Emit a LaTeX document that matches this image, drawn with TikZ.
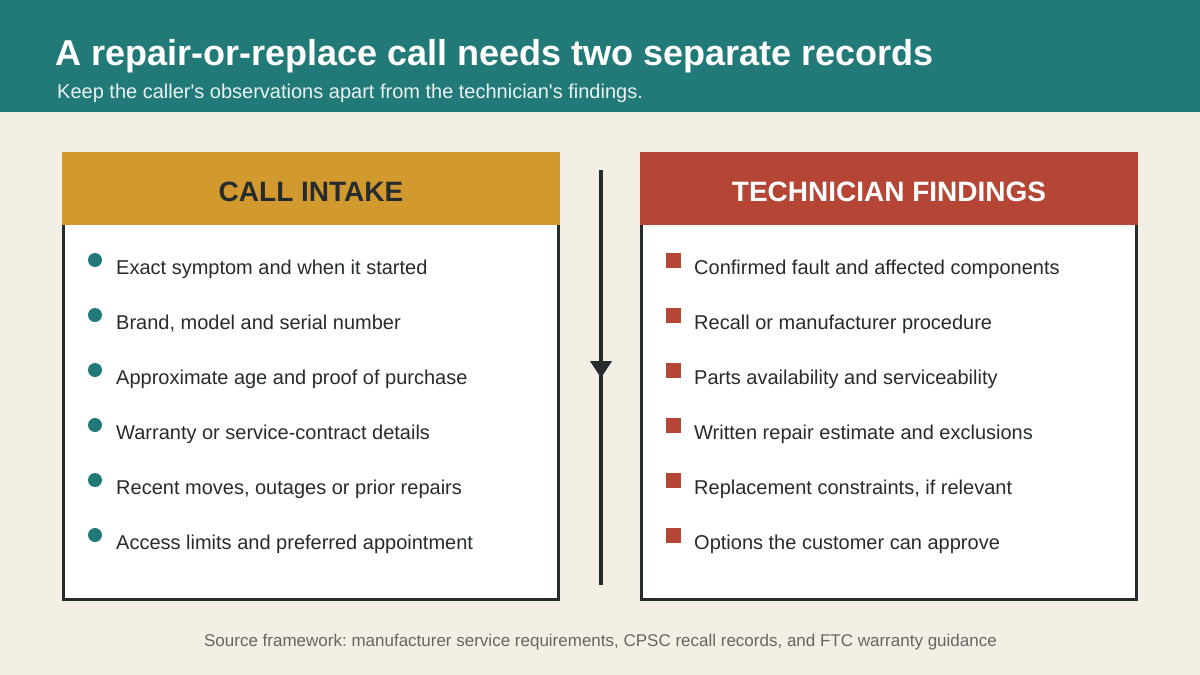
\documentclass[tikz,border=0pt]{standalone}
\usepackage{fontspec}
\setmainfont{Liberation Sans}
\frenchspacing
\usetikzlibrary{arrows.meta}
\definecolor{bgcream}{HTML}{F3EFE4}
\definecolor{teal}{HTML}{217A78}
\definecolor{ochre}{HTML}{D2992E}
\definecolor{brick}{HTML}{B54636}
\definecolor{ink}{HTML}{262C2E}
\definecolor{footgray}{HTML}{666666}
\begin{document}
\begin{tikzpicture}[x=1pt, y=-1pt,
  head/.style={rectangle, minimum width=498pt, minimum height=73pt, inner sep=0pt,
               text height=26pt, text depth=0pt,
               font=\fontsize{28}{32}\selectfont\bfseries},
  body/.style={rectangle, draw=ink, line width=3pt, fill=white, minimum width=495pt,
               minimum height=376pt, inner sep=0pt},
  item/.style={anchor=base west, inner sep=0pt, text=ink, font=\fontsize{20}{24}\selectfont},
  dot/.style={circle, fill=teal, minimum size=14pt, inner sep=0pt},
  sq/.style={rectangle, fill=brick, minimum size=15pt, inner sep=0pt},
  flow/.style={draw=ink, line width=4pt}
]
  % Hintergrund und Kopfzeile
  \fill[bgcream] (0,0) rectangle (1200,675);
  \fill[teal] (0,0) rectangle (1200,112);
  \node[anchor=base west, inner sep=0pt, text=white, font=\fontsize{36}{40}\selectfont\bfseries]
    (title) at (55,65) {A repair-or-replace call needs two separate records};
  \node[anchor=base west, inner sep=0pt, text=white!90!teal, font=\fontsize{20}{24}\selectfont]
    (subtitle) at (57,98) {Keep the caller\textquotesingle s observations apart from the technician\textquotesingle s findings.};

  % Linke Spalte: Anrufannahme
  \node[body] (intakebody) at (311,411.5) {};
  \node[head, fill=ochre, text=ink] (intakehead) at (311,188.5) {CALL INTAKE};
  \node[dot] (d1) at (95,260) {};
  \node[dot] (d2) at (95,315) {};
  \node[dot] (d3) at (95,370) {};
  \node[dot] (d4) at (95,425) {};
  \node[dot] (d5) at (95,480) {};
  \node[dot] (d6) at (95,535) {};
  \node[item] (i1) at (116,274) {Exact symptom and when it started};
  \node[item] (i2) at (116,329) {Brand, model and serial number};
  \node[item] (i3) at (116,384) {Approximate age and proof of purchase};
  \node[item] (i4) at (116,439) {Warranty or service-contract details};
  \node[item] (i5) at (116,494) {Recent moves, outages or prior repairs};
  \node[item] (i6) at (116,549) {Access limits and preferred appointment};

  % Rechte Spalte: Befunde
  \node[body] (findbody) at (889,411.5) {};
  \node[head, fill=brick, text=white] (findhead) at (889,188.5) {TECHNICIAN FINDINGS};
  \node[sq] (s1) at (673.5,260.5) {};
  \node[sq] (s2) at (673.5,315.5) {};
  \node[sq] (s3) at (673.5,370.5) {};
  \node[sq] (s4) at (673.5,425.5) {};
  \node[sq] (s5) at (673.5,480.5) {};
  \node[sq] (s6) at (673.5,535.5) {};
  \node[item] (f1) at (694,274) {Confirmed fault and affected components};
  \node[item] (f2) at (694,329) {Recall or manufacturer procedure};
  \node[item] (f3) at (694,384) {Parts availability and serviceability};
  \node[item] (f4) at (694,439) {Written repair estimate and exclusions};
  \node[item] (f5) at (694,494) {Replacement constraints, if relevant};
  \node[item] (f6) at (694,549) {Options the customer can approve};

  % Pfeil zwischen den Spalten
  \coordinate (flowtop) at (601,170);
  \coordinate (flowtip) at (601,378);
  \coordinate (flowbot) at (601,585);
  \draw[flow] (flowtop) -- (flowbot);
  \draw[flow, -{Triangle[length=17pt, width=21pt]}] (flowtop) -- (flowtip);

  % Quelle
  \node[anchor=base, inner sep=0pt, text=footgray, font=\fontsize{17}{20}\selectfont]
    (source) at (600.5,646) {Source framework: manufacturer service requirements, CPSC recall records, and FTC warranty guidance};
\end{tikzpicture}
\end{document}
